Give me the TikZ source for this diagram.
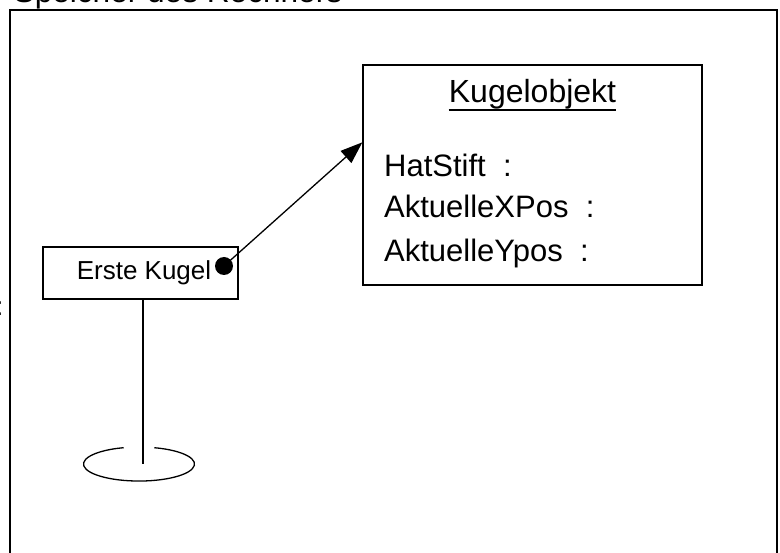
\documentclass[tikz,border=0pt]{standalone}
\usepackage{fontspec}
\setmainfont{Liberation Sans}
\usetikzlibrary{arrows.meta}

\begin{document}
\begin{tikzpicture}[y=-1pt, x=1pt]
	\tikzstyle{every node}=[inner sep=0]
	\tikzstyle{bigtext}=[font=\fontsize{31}{37}\selectfont]
	\tikzstyle{box}=[draw, line width=1.3pt]
	\useasboundingbox (0,0) rectangle (780,553);

	%frame
	\draw[line width=2pt] (10,570) -- (10,10) -- (777,10) -- (777,570);
	\node[bigtext, font=\fontsize{31.6}{37}\selectfont, anchor=base west] (speicher) at (13.5,3) {Speicher des Rechners};
	\node[font=\fontsize{26}{30}\selectfont, anchor=base east] (rest) at (3.5,316) {:};

	%variable
	\node[box, minimum width=195, minimum height=52, font=\fontsize{26}{30}\selectfont] (kugel) at (140.5,273) {\hspace{7pt}Erste Kugel};
	\node[circle, fill, minimum size=18] (zeiger) at (224,266) {};
	\coordinate (boden) at (143,464);
	\draw[line width=1.3pt] ([xshift=2.5pt]kugel.south) -- (boden);
	\draw[line width=1.3pt] (154.3,447.7) arc[start angle=-74, end angle=254, x radius=55.5, y radius=17];

	%object
	\node[box, minimum width=339, minimum height=220] (objekt) at (532.5,175) {};
	\node[bigtext, font=\fontsize{32}{37}\selectfont, anchor=base] (titel) at (532.5,103) {Kugelobjekt};
	\draw[line width=2pt] ([yshift=-7pt]titel.base west) -- ([yshift=-7pt]titel.base east);
	\node[bigtext, anchor=base west] (stift) at (384,176.7) {HatStift\ \ :};
	\node[bigtext, anchor=base west] (xpos) at (384,218) {AktuelleXPos\ \ :};
	\node[bigtext, anchor=base west] (ypos) at (384,261.7) {AktuelleYpos\ \ :};

	%reference
	\draw[line width=1.3pt, -{Triangle[length=22pt, width=16pt]}] (zeiger.center) -- ([yshift=-78pt]objekt.north west);
\end{tikzpicture}
\end{document}
